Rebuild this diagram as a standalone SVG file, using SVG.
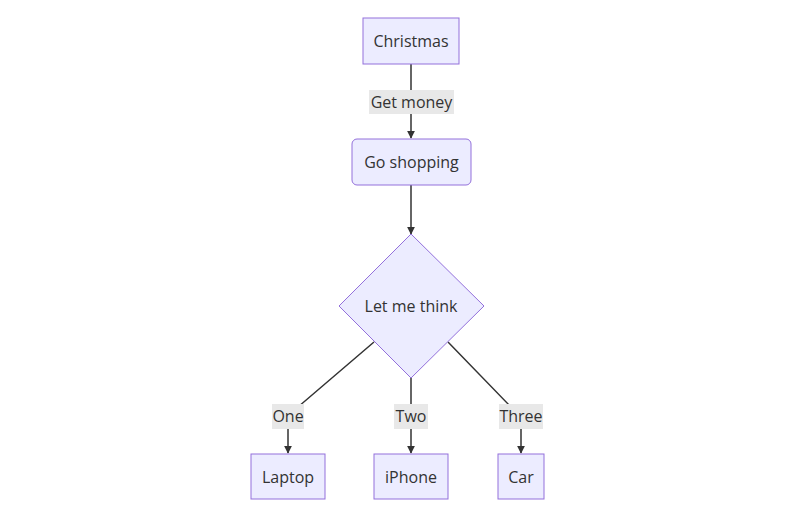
<svg xmlns="http://www.w3.org/2000/svg" width="798" height="525" viewBox="0 0 798 525">
<style>
.node{fill:#ECECFF;stroke:#9370DB;stroke-width:1}
.t{font-family:"Open Sans","Noto Sans",sans-serif;font-size:16px;fill:#333;text-anchor:middle;dominant-baseline:central}
.edge{fill:none;stroke:#333;stroke-width:1.5}
.lbl{fill:#e8e8e8}
</style>
<defs>
<marker id="arr" viewBox="0 0 10 10" refX="9" refY="5" markerWidth="8" markerHeight="8" markerUnits="userSpaceOnUse" orient="auto">
<path d="M0,0 L10,5 L0,10 z" fill="#333"/>
</marker>
</defs>
<rect width="798" height="525" fill="#fff"/>
<g id="connectors">
<path class="edge" d="M411,64 L411,138" marker-end="url(#arr)"/>
<path class="edge" d="M411,185 L411,234" marker-end="url(#arr)"/>
<path class="edge" d="M374,342 L298,407 Q288,415 288,425 L288,453" marker-end="url(#arr)"/>
<path class="edge" d="M411,378 L411,453" marker-end="url(#arr)"/>
<path class="edge" d="M448,342 L511,407 Q521,415 521,425 L521,453" marker-end="url(#arr)"/>
</g>
<g id="edge-labels">
<g id="label-get-money"><rect class="lbl" x="369" y="90" width="85" height="24"/><text class="t" x="411.5" y="102">Get money</text></g>
<g id="label-one"><rect class="lbl" x="272" y="404" width="32" height="25"/><text class="t" x="288" y="416">One</text></g>
<g id="label-two"><rect class="lbl" x="394" y="404" width="34" height="25"/><text class="t" x="411" y="416">Two</text></g>
<g id="label-three"><rect class="lbl" x="499" y="404" width="44" height="25"/><text class="t" x="521" y="416">Three</text></g>
</g>
<g id="christmas"><rect class="node" x="363" y="18" width="96" height="46"/><text class="t" x="411" y="41">Christmas</text></g>
<g id="go-shopping"><rect class="node" x="352" y="139" width="119" height="46" rx="5" ry="5"/><text class="t" x="411.5" y="162">Go shopping</text></g>
<g id="let-me-think"><polygon class="node" points="411,234 484,306 411,378 339,306"/><text class="t" x="411" y="306">Let me think</text></g>
<g id="laptop"><rect class="node" x="251" y="454" width="74" height="45"/><text class="t" x="288" y="476.5">Laptop</text></g>
<g id="iphone"><rect class="node" x="374" y="454" width="74" height="45"/><text class="t" x="411" y="476.5">iPhone</text></g>
<g id="car"><rect class="node" x="498" y="454" width="46" height="45"/><text class="t" x="521" y="476.5">Car</text></g>
</svg>
